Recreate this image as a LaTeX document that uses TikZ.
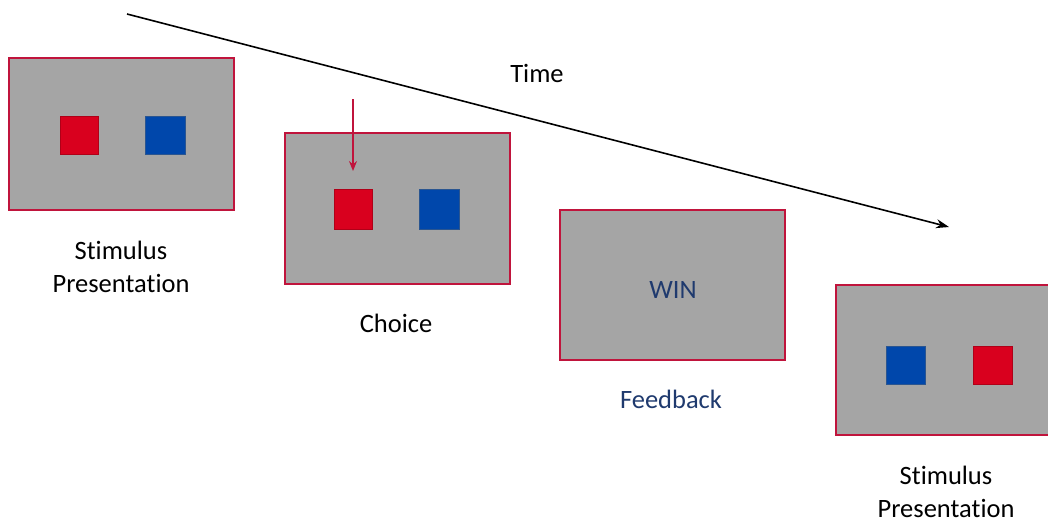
\documentclass[tikz,border=0pt]{standalone}
\usepackage{fontspec}
\setmainfont[Ligatures={NoCommon,NoContextual}]{Carlito}
\usetikzlibrary{arrows.meta}
\definecolor{scrgray}{HTML}{A5A5A5}
\definecolor{frame}{HTML}{C0143C}
\definecolor{sqred}{HTML}{D9001E}
\definecolor{sqredb}{HTML}{B00018}
\definecolor{sqblue}{HTML}{0047AB}
\definecolor{sqblueb}{HTML}{2A5590}
\definecolor{navy}{HTML}{1F3A6E}
\begin{document}
\begin{tikzpicture}[x=1pt,y=-1pt,
  screen/.style={draw=frame,fill=scrgray,line width=1.6pt},
  redsq/.style={draw=sqredb,fill=sqred,line width=1pt},
  bluesq/.style={draw=sqblueb,fill=sqblue,line width=1pt},
  lbl/.style={font=\fontsize{26.5}{33}\selectfont,align=center,inner sep=0pt},
  ]
\useasboundingbox (0,0) rectangle (1048,523);
% screens
\draw[screen] (9,58) rectangle (234,210);
\draw[redsq] (60,116) rectangle (98,154);
\draw[bluesq] (145,116) rectangle (185,154);

\draw[screen] (285,133) rectangle (510,284);
\draw[redsq] (334,189) rectangle (372,229);
\draw[bluesq] (419,189) rectangle (459,229);

\draw[screen] (560,210) rectangle (785,360);
\node[lbl,text=navy] (win) at (673,290) {WIN};

\draw[screen] (836,285) rectangle (1060,435);
\draw[bluesq] (886,346) rectangle (925,384);
\draw[redsq] (973,346) rectangle (1012,384);

% choice arrow
\coordinate (ca) at (353,99);
\coordinate (cb) at (353,171);
\draw[frame,line width=1.5pt,-{Stealth[length=10pt,width=8pt]}] (ca) -- (cb);

% time line
\coordinate (t0) at (127,14);
\coordinate (t1) at (949,227);
\draw[black,line width=1.6pt,-{Stealth[length=13pt,width=9pt]}] (t0) -- (t1);
\node[lbl] (time) at (537,73) {Time};

% labels
\node[lbl] (l1) at (121,267) {Stimulus\\Presentation};
\node[lbl] (l2) at (396,323) {Choice};
\node[lbl,text=navy] (l3) at (671,399) {Feedback};
\node[lbl] (l4) at (946,492) {Stimulus\\Presentation};
\end{tikzpicture}
\end{document}
